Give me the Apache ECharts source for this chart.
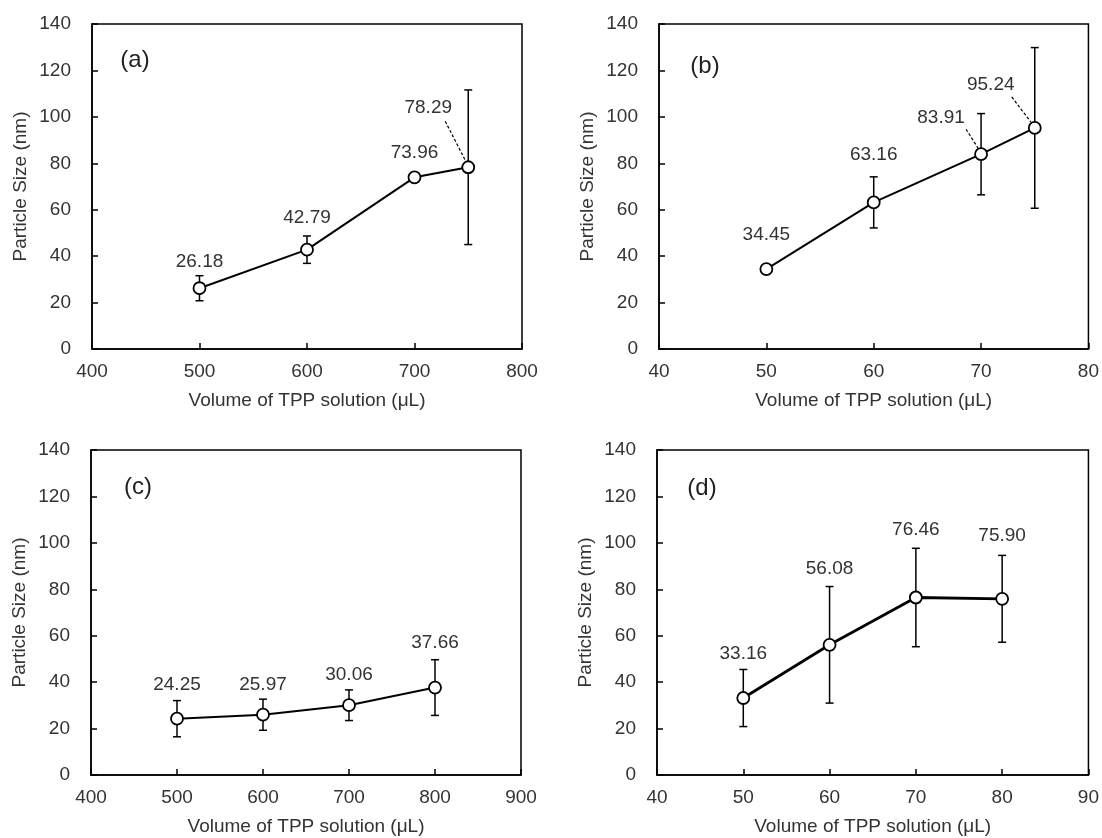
<!DOCTYPE html>
<html>
<head>
<meta charset="utf-8">
<script src="https://cdn.jsdelivr.net/npm/echarts@6/dist/echarts.min.js"></script>
<style>
html,body{margin:0;padding:0;background:#fff;}
#chart{width:1102px;height:838px;}
</style>
</head>
<body>
<div id="chart"></div>
<script>
// ---- Data ----
const panelLetters = ['(a)', '(b)', '(c)', '(d)'];
const xA = [500, 600, 700, 750];
const yA = [26.18, 42.79, 73.96, 78.29];
const errA = [5.4, 5.9, null, 33.3];

const xB = [50, 60, 70, 75];
const yB = [34.45, 63.16, 83.91, 95.24];
const errB = [null, 11.0, 17.5, 34.6];

const xC = [500, 600, 700, 800];
const yC = [24.25, 25.97, 30.06, 37.66];
const errC = [7.8, 6.7, 6.6, 12.0];

const xD = [50, 60, 70, 80];
const yD = [33.16, 56.08, 76.46, 75.90];
const errD = [12.3, 25.1, 21.2, 18.7];

const xRanges = [[400, 800, 100], [40, 80, 10], [400, 900, 100], [40, 90, 10]];
const yTicks = [0, 20, 40, 60, 80, 100, 120, 140];
const xName = 'Volume of TPP solution (μL)';
const yName = 'Particle Size (nm)';

// ---- Layout (positions / styles) ----
const grids = [
  {left: 92, top: 24, width: 430, height: 325},
  {left: 659, top: 24, width: 431, height: 325},
  {left: 91, top: 450, width: 430, height: 325},
  {left: 657, top: 450, width: 433, height: 325}
];
const letterPos = [[135, 60], [705, 66], [138, 487], [702, 488]];
const labelOffsets = [
  [[0, -26], [0, -32], [0, -25], [-40, -59]],
  [[0, -34], [0, -48], [-40, -36], [-44, -43]],
  [[0, -34], [0, -30], [0, -30], [0, -45]],
  [[0, -44], [0, -76], [0, -68], [0, -63]]
];
// dashed leader lines: [panel, pointIndex, fromOffset, toOffset]
const leaders = [
  [0, 3, [-23, -46], [-3, -7]],
  [1, 2, [-15, -25], [-3, -6]],
  [1, 3, [-23, -31], [-4, -6]]
];
const lineWidths = [2, 2, 2, 2.8];

const FONT = "'Liberation Sans', Arial, sans-serif";
const FS = 19;
const TXT = '#333';

const panels = [
  {x: xA, y: yA, e: errA},
  {x: xB, y: yB, e: errB},
  {x: xC, y: yC, e: errC},
  {x: xD, y: yD, e: errD}
];

const chart = echarts.init(document.getElementById('chart'), null, {renderer: 'canvas'});

const xAxes = [], yAxes = [], series = [], gridOpts = [];
panels.forEach((p, i) => {
  gridOpts.push(Object.assign({show: true, borderColor: '#000', borderWidth: 1.5, backgroundColor: 'transparent', containLabel: false}, grids[i]));
  xAxes.push({
    type: 'value', gridIndex: i,
    min: xRanges[i][0], max: xRanges[i][1], interval: xRanges[i][2],
    name: xName, nameLocation: 'middle', nameGap: 42,
    nameTextStyle: {fontFamily: FONT, fontSize: FS, color: TXT},
    axisLine: {show: true, onZero: false, lineStyle: {color: '#000', width: 1.5}},
    axisTick: {show: true, inside: true, length: 6, lineStyle: {color: '#000', width: 1.5}},
    axisLabel: {fontFamily: FONT, fontSize: FS, color: TXT, margin: 13},
    splitLine: {show: false}
  });
  yAxes.push({
    type: 'value', gridIndex: i,
    min: yTicks[0], max: yTicks[yTicks.length - 1], interval: yTicks[1] - yTicks[0],
    name: yName, nameLocation: 'middle', nameGap: 62, nameRotate: 90,
    nameTextStyle: {fontFamily: FONT, fontSize: FS, color: TXT},
    axisLine: {show: true, onZero: false, lineStyle: {color: '#000', width: 1.5}},
    axisTick: {show: true, inside: true, length: 6, lineStyle: {color: '#000', width: 1.5}},
    axisLabel: {fontFamily: FONT, fontSize: FS, color: TXT, margin: 21},
    splitLine: {show: false}
  });

  // error bars
  series.push({
    type: 'custom', xAxisIndex: i, yAxisIndex: i, z: 1, silent: true,
    data: p.x.map((xv, k) => [xv, p.y[k], p.e[k] == null ? 0 : p.e[k]]),
    encode: {x: 0, y: 1},
    renderItem: function (params, api) {
      const xv = api.value(0), yv = api.value(1), ev = api.value(2);
      if (!ev) return null;
      const top = api.coord([xv, yv + ev]);
      const bot = api.coord([xv, yv - ev]);
      const cw = 4;
      const st = {stroke: '#000', lineWidth: 1.5};
      return {type: 'group', children: [
        {type: 'line', shape: {x1: top[0], y1: top[1], x2: bot[0], y2: bot[1]}, style: st},
        {type: 'line', shape: {x1: top[0] - cw, y1: top[1], x2: top[0] + cw, y2: top[1]}, style: st},
        {type: 'line', shape: {x1: bot[0] - cw, y1: bot[1], x2: bot[0] + cw, y2: bot[1]}, style: st}
      ]};
    }
  });

  // main line with markers and value labels
  series.push({
    type: 'line', xAxisIndex: i, yAxisIndex: i, z: 3,
    data: p.x.map((xv, k) => ({
      value: [xv, p.y[k]],
      label: {offset: labelOffsets[i][k]}
    })),
    symbol: 'circle', symbolSize: 12, showAllSymbol: true,
    itemStyle: {color: '#fff', borderColor: '#000', borderWidth: 1.8},
    lineStyle: {color: '#000', width: lineWidths[i]},
    label: {
      show: true, position: 'inside', fontFamily: FONT, fontSize: FS, color: TXT,
      formatter: (d) => d.value[1].toFixed(2)
    },
    emphasis: {disabled: true},
    animation: false
  });

  // dashed leader lines for this panel
  const myLeaders = leaders.filter(l => l[0] === i);
  if (myLeaders.length) {
    series.push({
      type: 'custom', xAxisIndex: i, yAxisIndex: i, z: 2, silent: true,
      data: myLeaders.map(l => [p.x[l[1]], p.y[l[1]], l[2][0], l[2][1], l[3][0], l[3][1]]),
      encode: {x: 0, y: 1},
      renderItem: function (params, api) {
        const c = api.coord([api.value(0), api.value(1)]);
        return {type: 'line',
          shape: {x1: c[0] + api.value(2), y1: c[1] + api.value(3), x2: c[0] + api.value(4), y2: c[1] + api.value(5)},
          style: {stroke: '#000', lineWidth: 1.2, lineDash: [3, 2]}};
      }
    });
  }
});

chart.setOption({
  backgroundColor: '#fff',
  animation: false,
  graphic: panelLetters.map((t, i) => ({
    type: 'text', x: letterPos[i][0], y: letterPos[i][1],
    style: {text: t, font: '24px ' + FONT, fill: '#222', align: 'center', verticalAlign: 'middle'}
  })),
  grid: gridOpts,
  xAxis: xAxes,
  yAxis: yAxes,
  series: series
});
</script>
</body>
</html>
